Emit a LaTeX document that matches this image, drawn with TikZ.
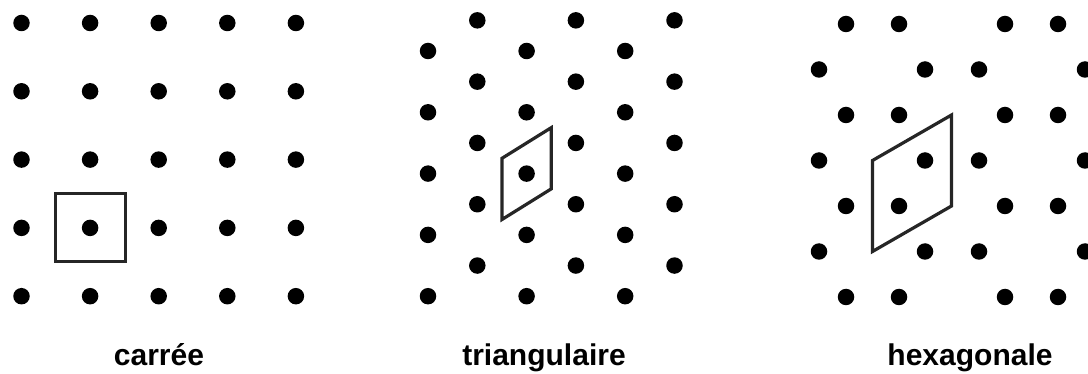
\documentclass[tikz,border=0pt]{standalone}
\usepackage{fontspec}
\setmainfont{Liberation Sans}
\usetikzlibrary{calc}

\begin{document}
\begin{tikzpicture}[
x=1pt, y=-1pt,
dot/.style = {circle, fill=black, inner sep=0pt, minimum size=16.5pt},
cell/.style = {draw=black!85, line width=3.2pt, line join=miter},
lattname/.style = {anchor=base, font=\bfseries\fontsize{30}{36}\selectfont}
                ]
\useasboundingbox (0,0) rectangle (1088,374);

%% carree
\foreach \i in {0,...,4}
  \foreach \j in {0,...,4}
    \node (s\i\j) [dot] at ({21.5+68.6*\i}, {23+68.3*\j}) {};
\draw [cell] ($(s13)+(-35,-34)$) rectangle ($(s13)+(35,34)$);

%% triangulaire
\foreach \i in {0,...,5}
  \foreach \j in {0,...,4}
    \node (t\i\j) [dot] at ({428+49.3*\i}, {51-30.65*mod(\i,2)+61.3*\j}) {};
\draw [cell] ($(t22)+(-24.6,-15.3)$) -- ($(t22)+(24.6,-45.9)$)
          -- ($(t22)+(24.6,15.3)$) -- ($(t22)+(-24.6,45.9)$) -- cycle;

%% hexagonale
\foreach \k in {0,2,4,6}
  \foreach \x [count=\n] in {846,899,1005,1058}
    \node (h\k\n) [dot] at (\x, {24+45.5*\k}) {};
\foreach \k in {1,3,5}
  \foreach \x [count=\n] in {819,925,979,1085}
    \node (h\k\n) [dot] at (\x, {24+45.5*\k}) {};
\coordinate (hm) at ($(h32)!0.5!(h42)$);
\draw [cell] ($(hm)+(-39.5,-22.75)$) -- ($(hm)+(39.5,-68.25)$)
          -- ($(hm)+(39.5,22.75)$) -- ($(hm)+(-39.5,68.25)$) -- cycle;

\node (l1) [lattname] at (159,366) {carrée};
\node (l2) [lattname] at (544,366) {triangulaire};
\node (l3) [lattname] at (970,366) {hexagonale};
%%
\end{tikzpicture}
\end{document}
